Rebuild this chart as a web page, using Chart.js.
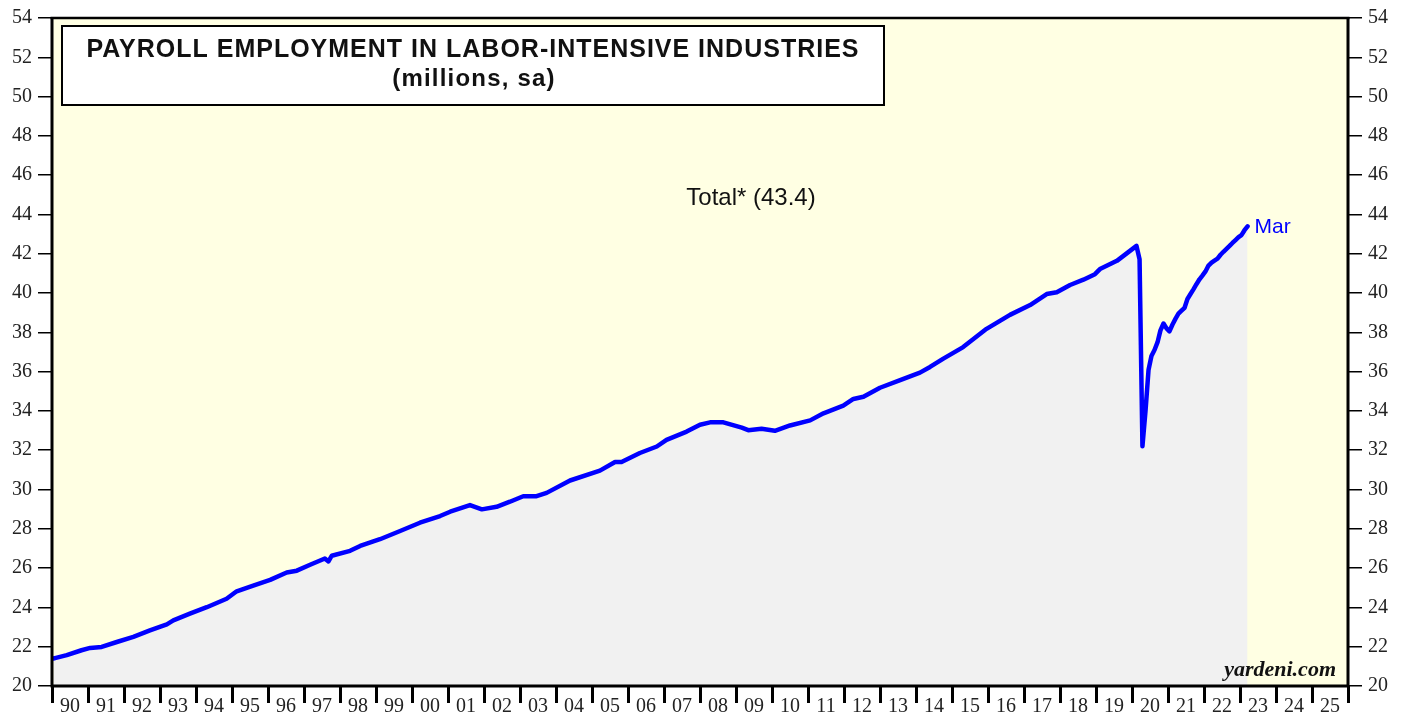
<!DOCTYPE html>
<html><head><meta charset="utf-8">
<script src="https://cdn.jsdelivr.net/npm/chart.js@4.4.1/dist/chart.umd.min.js"></script>
<style>html,body{margin:0;padding:0;background:#fff;overflow:hidden}#wrap{width:1408px;height:717px;position:relative}</style>
</head><body><div id="wrap"><canvas id="c"></canvas></div>
<script>
// ---- data ----
const yearLabels = ['90','91','92','93','94','95','96','97','98','99','00','01','02','03','04','05','06','07','08','09','10','11','12','13','14','15','16','17','18','19','20','21','22','23','24','25'];
const yTickMin = 20;
const yTickMax = 54;
const yTickStep = 2;
const dates = [
 1990.04,1990.11,1990.41,1990.82,1991.06,1991.38,1991.8,1992.26,1992.72,1993.19,1993.37,1993.83,1994.3,1994.85,
 1995.13,1995.59,1996.06,1996.52,1996.8,1997.17,1997.58,1997.68,1997.77,1998.28,1998.56,1999.11,1999.67,
 2000.22,2000.78,2001.06,2001.61,2001.94,2002.35,2002.72,2003.09,2003.46,2003.74,2004.39,2005.22,2005.64,2005.82,
 2006.33,2006.8,2007.07,2007.63,2008.0,2008.28,2008.65,2009.16,2009.34,2009.71,2010.08,2010.5,2011.06,2011.43,
 2011.98,2012.26,2012.54,2013.0,2013.56,2014.11,2014.39,2014.76,2015.31,2015.96,2016.61,2017.17,2017.63,2017.91,
 2018.28,2018.65,2018.97,2019.11,2019.58,2020.125,2020.21,2020.29,2020.375,2020.46,2020.54,2020.625,2020.71,
 2020.79,2020.875,2020.96,2021.04,2021.125,2021.21,2021.29,2021.375,2021.46,2021.54,2021.625,2021.71,2021.79,
 2021.875,2021.96,2022.04,2022.125,2022.21,2022.29,2022.375,2022.46,2022.54,2022.625,2022.71,2022.79,2022.875,
 2022.96,2023.04,2023.125,2023.21
];
const totalValues = [
 21.40,21.43,21.57,21.82,21.94,21.99,22.24,22.50,22.83,23.14,23.34,23.68,24.01,24.44,
 24.82,25.11,25.40,25.78,25.87,26.17,26.49,26.34,26.63,26.88,27.13,27.47,27.89,
 28.31,28.65,28.87,29.21,28.99,29.12,29.38,29.66,29.66,29.83,30.46,30.96,31.40,31.40,
 31.86,32.19,32.53,32.95,33.30,33.42,33.42,33.15,33.02,33.09,32.99,33.26,33.52,33.88,
 34.27,34.61,34.72,35.18,35.57,35.95,36.24,36.66,37.25,38.18,38.89,39.39,39.95,40.04,
 40.41,40.68,40.96,41.22,41.64,42.40,41.72,32.20,34.00,36.10,36.80,37.10,37.50,
 38.10,38.45,38.20,38.05,38.40,38.70,38.95,39.10,39.25,39.70,39.95,40.20,40.45,
 40.70,40.90,41.10,41.40,41.55,41.65,41.75,41.95,42.10,42.25,42.40,42.55,42.70,
 42.85,42.95,43.20,43.40
];
const titleLine1 = 'PAYROLL EMPLOYMENT IN LABOR-INTENSIVE INDUSTRIES';
const titleLine2 = '(millions, sa)';
const seriesName = 'Total*';
const lastMonth = 'Mar';
const source = 'yardeni.com';

const points = dates.map((d,i)=>({x:d, y: totalValues[i]}));

const decor = {
  id: 'decor',
  beforeDraw(chart){
    const {ctx, chartArea:a} = chart;
    ctx.save();
    ctx.fillStyle = '#ffffe3';
    ctx.fillRect(a.left, a.top, a.right-a.left, a.bottom-a.top);
    ctx.restore();
  },
  afterDatasetsDraw(chart){
    const {ctx, chartArea:a} = chart;
    const xs = chart.scales.x, ys = chart.scales.y;
    ctx.save();
    // frame
    ctx.strokeStyle = '#000';
    ctx.lineWidth = 3;
    ctx.beginPath();
    ctx.moveTo(a.left, a.top); ctx.lineTo(a.left, a.bottom);
    ctx.moveTo(a.right, a.top); ctx.lineTo(a.right, a.bottom);
    ctx.moveTo(a.left-1.5, a.bottom); ctx.lineTo(a.right+1.5, a.bottom);
    ctx.stroke();
    ctx.lineWidth = 2.5;
    ctx.beginPath();
    ctx.moveTo(a.left-1.5, a.top); ctx.lineTo(a.right+1.5, a.top);
    ctx.stroke();
    // title box
    const bx = a.left + 10, by = a.top + 8, bw = 822, bh = 79;
    ctx.fillStyle = '#fff';
    ctx.fillRect(bx, by, bw, bh);
    ctx.lineWidth = 2;
    ctx.strokeRect(bx, by, bw, bh);
    ctx.fillStyle = '#111';
    ctx.textAlign = 'center';
    ctx.textBaseline = 'alphabetic';
    ctx.letterSpacing = '1px';
    ctx.font = 'bold 25px "Liberation Sans", Arial, sans-serif';
    ctx.fillText(titleLine1, bx + bw/2, by + 31);
    ctx.letterSpacing = '1.2px';
    ctx.font = 'bold 24px "Liberation Sans", Arial, sans-serif';
    ctx.fillText(titleLine2, bx + bw/2 + 1, by + 60);
    ctx.letterSpacing = '0px';
    // series label
    const last = totalValues[totalValues.length-1];
    ctx.font = '24px "Liberation Sans", Arial, sans-serif';
    ctx.textBaseline = 'middle';
    ctx.fillText(seriesName + ' (' + last.toFixed(1) + ')', 751, 198);
    // last month label
    ctx.fillStyle = '#0000ff';
    ctx.textAlign = 'left';
    ctx.font = '21px "Liberation Sans", Arial, sans-serif';
    ctx.fillText(lastMonth, xs.getPixelForValue(dates[dates.length-1]) + 7, ys.getPixelForValue(last) + 1);
    // source
    ctx.fillStyle = '#111';
    ctx.textAlign = 'right';
    ctx.font = 'italic bold 22px "Liberation Serif", "Times New Roman", serif';
    ctx.fillText(source, a.right - 12, a.bottom - 16);
    ctx.restore();
  }
};

const yTickCommon = {
  min: yTickMin, max: yTickMax,
  border: {display:false},
  grid: {drawOnChartArea:false, drawTicks:true, tickLength:14, color:'#000', lineWidth:1.5},
  ticks: {stepSize: yTickStep, color:'#222', padding:6, font:{family:'"Liberation Serif", "Times New Roman", serif', size:20}}
};

new Chart(document.getElementById('c'), {
  type: 'line',
  data: {
    labels: yearLabels,
    datasets: [{
      label: seriesName,
      data: points,
      xAxisID: 'x',
      yAxisID: 'y',
      borderColor: '#0000ff',
      borderWidth: 4.5,
      backgroundColor: '#f1f1f1',
      fill: 'start',
      pointRadius: 0,
      tension: 0,
      borderJoinStyle: 'round',
      borderCapStyle: 'round'
    }]
  },
  options: {
    responsive: true,
    maintainAspectRatio: false,
    animation: false,
    layout: {padding: {top: 14, left: 0, right: 0, bottom: 0}},
    plugins: {legend:{display:false}, tooltip:{enabled:false}, title:{display:false}},
    scales: {
      x: {type:'linear', min:1990, max:2026, display:false},
      xl: {
        type:'category', position:'bottom', labels: yearLabels, offset:true,
        border:{display:false},
        grid:{offset:true, drawOnChartArea:false, drawTicks:true, tickLength:17, color:'#000', lineWidth:3},
        ticks:{autoSkip:false, maxRotation:0, minRotation:0, padding:-8, color:'#222', font:{family:'"Liberation Serif", "Times New Roman", serif', size:20}},
        afterFit(s){ s.height = 31; }
      },
      y: Object.assign({position:'left', afterFit(s){ s.width = 52; }}, JSON.parse(JSON.stringify(yTickCommon))),
      y2: Object.assign({position:'right', afterFit(s){ s.width = 60; }}, JSON.parse(JSON.stringify(yTickCommon)))
    }
  },
  plugins: [decor]
});
</script>
</body></html>
